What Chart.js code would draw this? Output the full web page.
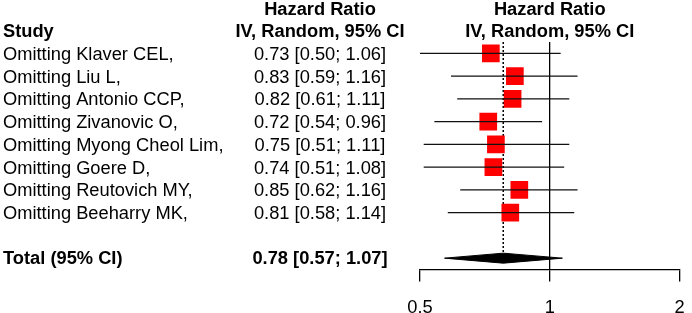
<!DOCTYPE html>
<html>
<head>
<meta charset="utf-8">
<script src="https://cdn.jsdelivr.net/npm/chart.js@4"></script>
<style>
  html, body { margin: 0; padding: 0; background: #fff; }
  canvas { display: block; }
</style>
</head>
<body>
<canvas id="forestChart" width="692" height="313"></canvas>
<script>
// study labels and hazard ratios
const studies = ['Omitting Klaver CEL,', 'Omitting Liu L,', 'Omitting Antonio CCP,', 'Omitting Zivanovic O,',
  'Omitting Myong Cheol Lim,', 'Omitting Goere D,', 'Omitting Reutovich MY,', 'Omitting Beeharry MK,'];
const hr = [0.73, 0.83, 0.82, 0.72, 0.75, 0.74, 0.85, 0.81];
const lower = [0.50, 0.59, 0.61, 0.54, 0.51, 0.51, 0.62, 0.58];
const upper = [1.06, 1.16, 1.11, 0.96, 1.11, 1.08, 1.16, 1.14];
const rows = [1, 2, 3, 4, 5, 6, 7, 8];

const totalLabel = 'Total (95% CI)';
const totalHr = 0.78;
const totalLower = 0.57;
const totalUpper = 1.07;
const totalRow = 10;

const xTicks = [0.5, 1, 2];

const FONT = 'Arial, "Liberation Sans", sans-serif';
const FS = 18.3;
const diamondHalf = 0.22; // half height of the summary diamond, in row units

const fmt = (m, l, u) => m.toFixed(2) + ' [' + l.toFixed(2) + '; ' + u.toFixed(2) + ']';

// text columns and CI whiskers, placed with the chart's scales
const forestText = {
  id: 'forestText',
  afterDatasetsDraw(chart) {
    const { ctx, scales: { x, y } } = chart;
    ctx.save();

    // confidence interval lines
    ctx.strokeStyle = '#111';
    ctx.lineWidth = 1.4;
    rows.forEach((r, i) => {
      const py = y.getPixelForValue(r);
      ctx.beginPath();
      ctx.moveTo(x.getPixelForValue(lower[i]), py);
      ctx.lineTo(x.getPixelForValue(upper[i]), py);
      ctx.stroke();
    });

    ctx.fillStyle = '#000';
    ctx.textBaseline = 'middle';

    // headers
    ctx.font = 'bold ' + FS + 'px ' + FONT;
    ctx.textAlign = 'left';
    ctx.fillText('Study', 3, 32);
    ctx.textAlign = 'center';
    ctx.fillText('Hazard Ratio', 320, 10);
    ctx.fillText('IV, Random, 95% CI', 320, 32);
    const cx = x.getPixelForValue(1);
    ctx.fillText('Hazard Ratio', cx, 10);
    ctx.fillText('IV, Random, 95% CI', cx, 32);

    // study rows
    ctx.font = FS + 'px ' + FONT;
    rows.forEach((r, i) => {
      const py = y.getPixelForValue(r) + 1.5;
      ctx.textAlign = 'left';
      ctx.fillText(studies[i], 3, py);
      ctx.textAlign = 'center';
      ctx.fillText(fmt(hr[i], lower[i], upper[i]), 320, py);
    });

    // total row
    ctx.font = 'bold ' + FS + 'px ' + FONT;
    const ty = y.getPixelForValue(totalRow) + 0.5;
    ctx.textAlign = 'left';
    ctx.fillText(totalLabel, 3, ty);
    ctx.textAlign = 'center';
    ctx.fillText(fmt(totalHr, totalLower, totalUpper), 320, ty);

    ctx.restore();
  }
};

const boxes = rows.map((r, i) => ({ x: hr[i], y: r }));

const diamond = [
  { x: totalLower, y: totalRow },
  { x: totalHr, y: totalRow - diamondHalf },
  { x: totalUpper, y: totalRow },
  { x: totalHr, y: totalRow + diamondHalf },
  { x: totalLower, y: totalRow }
];

const refLine = [
  { x: totalHr, y: 0.5 },
  { x: totalHr, y: totalRow - diamondHalf }
];

const ctxEl = document.getElementById('forestChart');

const forestChart = new Chart(ctxEl, {
  type: 'scatter',
  data: {
    datasets: [
      {
        data: boxes,
        pointStyle: 'rect',
        pointRadius: 12.5,
        pointHoverRadius: 12.5,
        backgroundColor: '#ff0000',
        borderWidth: 0
      },
      {
        data: boxes,
        pointStyle: 'line',
        rotation: 90,
        pointRadius: 3.5,
        borderColor: '#000',
        borderWidth: 1.3
      },
      {
        data: diamond,
        showLine: true,
        fill: 'shape',
        backgroundColor: '#000',
        borderColor: '#000',
        borderWidth: 1,
        pointRadius: 0
      },
      {
        data: refLine,
        showLine: true,
        borderColor: '#000',
        borderWidth: 1.5,
        borderDash: [2, 2],
        pointRadius: 0
      }
    ]
  },
  options: {
    responsive: false,
    animation: false,
    devicePixelRatio: 1,
    layout: { padding: { left: 420, right: 1, top: 42, bottom: -20.5 } },
    plugins: {
      legend: { display: false },
      tooltip: { enabled: false }
    },
    scales: {
      x: {
        type: 'logarithmic',
        min: 0.5,
        max: 2,
        afterBuildTicks: (axis) => { axis.ticks = xTicks.map(v => ({ value: v })); },
        afterFit: (axis) => { axis.paddingLeft = 0; axis.paddingRight = 0; },
        ticks: {
          callback: (v) => String(v),
          color: '#000',
          font: { family: FONT, size: FS },
          padding: 15,
          maxRotation: 0,
          autoSkip: false
        },
        grid: {
          color: (c) => (c.tick && c.tick.value === 1 ? '#000' : 'rgba(0,0,0,0)'),
          tickColor: '#000',
          tickLength: 12,
          lineWidth: 1.3
        },
        border: { display: true, color: '#000', width: 1.3 }
      },
      y: {
        type: 'linear',
        reverse: true,
        min: 0.5,
        max: 10.5,
        display: false
      }
    }
  },
  plugins: [forestText]
});
</script>
</body>
</html>
